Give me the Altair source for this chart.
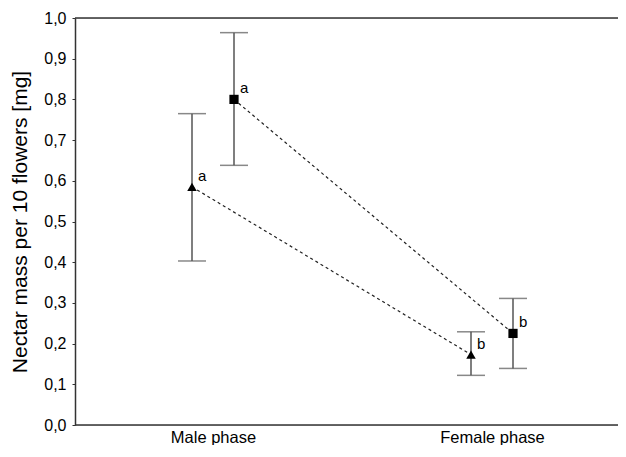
import altair as alt
import pandas as pd

phases = ["Male phase", "Female phase"]

tri_mean = [0.585, 0.173]
tri_low = [0.403, 0.122]
tri_high = [0.765, 0.229]
tri_letters = ["a", "b"]

sq_mean = [0.800, 0.225]
sq_low = [0.638, 0.139]
sq_high = [0.964, 0.311]
sq_letters = ["a", "b"]

y_ticks = [0.0, 0.1, 0.2, 0.3, 0.4, 0.5, 0.6, 0.7, 0.8, 0.9, 1.0]
frame_values = [0.0, 1.0]

tri_df = pd.DataFrame({"phase": phases, "mean": tri_mean, "low": tri_low,
                       "high": tri_high, "letter": tri_letters})
sq_df = pd.DataFrame({"phase": phases, "mean": sq_mean, "low": sq_low,
                      "high": sq_high, "letter": sq_letters})
frame_df = pd.DataFrame({"v": frame_values})

FONT = "Liberation Sans"
AXIS_COLOR = "#333333"
BAR_COLOR = "#555555"

x_enc = alt.X("phase:N", sort=phases,
              scale=alt.Scale(type="point", padding=0, range=[138, 417]),
              axis=alt.Axis(title=None, ticks=False, domain=False, labelAngle=0,
                            labelFontSize=16.5, labelFont=FONT, labelColor="#000000",
                            labelPadding=4))
y_scale = alt.Scale(domain=[0, 1], nice=False, zero=True)
y_axis = alt.Axis(title="Nectar mass per 10 flowers [mg]", values=y_ticks,
                  labelExpr="replace(format(datum.value, '.1f'), '.', ',')",
                  labelFontSize=16, labelFont=FONT, labelColor="#000000",
                  labelPadding=6, tickSize=3, tickColor=AXIS_COLOR,
                  domainColor=AXIS_COLOR, domainWidth=1.5, grid=False,
                  titleFontSize=21, titleFont=FONT, titleFontWeight="normal",
                  titleColor="#000000", titlePadding=13)


def series_layers(df, shape, size, off):
    base = alt.Chart(df)
    line = base.mark_line(strokeDash=[3, 3], strokeWidth=1.2, color="#222222",
                          xOffset=off).encode(
        x=x_enc, y=alt.Y("mean:Q", scale=y_scale, axis=y_axis))
    rule = base.mark_rule(color=BAR_COLOR, strokeWidth=1.5, xOffset=off).encode(
        x=x_enc, y="low:Q", y2="high:Q")
    cap_low = base.mark_tick(color=BAR_COLOR, size=28, thickness=1.5,
                             xOffset=off).encode(x=x_enc, y="low:Q")
    cap_high = base.mark_tick(color=BAR_COLOR, size=28, thickness=1.5,
                              xOffset=off).encode(x=x_enc, y="high:Q")
    pts = base.mark_point(shape=shape, size=size, filled=True, opacity=1,
                          color="#000000", xOffset=off).encode(x=x_enc, y="mean:Q")
    txt = base.mark_text(align="left", baseline="middle", dx=off + 6, dy=-11,
                         fontSize=15, font=FONT, color="#000000").encode(
        x=x_enc, y="mean:Q", text="letter:N")
    return [line, rule, cap_low, cap_high, pts, txt]


frame = alt.Chart(frame_df).mark_rule(
    color=AXIS_COLOR, strokeWidth=1.5).encode(y=alt.Y("v:Q", scale=y_scale))

chart = alt.layer(
    frame,
    *series_layers(tri_df, "triangle-up", 90, -21),
    *series_layers(sq_df, "square", 85, 21),
).properties(
    width=543, height=407,
    autosize=alt.AutoSizeParams(type="none"),
    padding={"left": 67, "top": 10, "right": 0, "bottom": 20},
).configure_view(stroke=None).configure(background="white")

chart.save("out.html", embed_options={"renderer": "svg", "actions": False})
